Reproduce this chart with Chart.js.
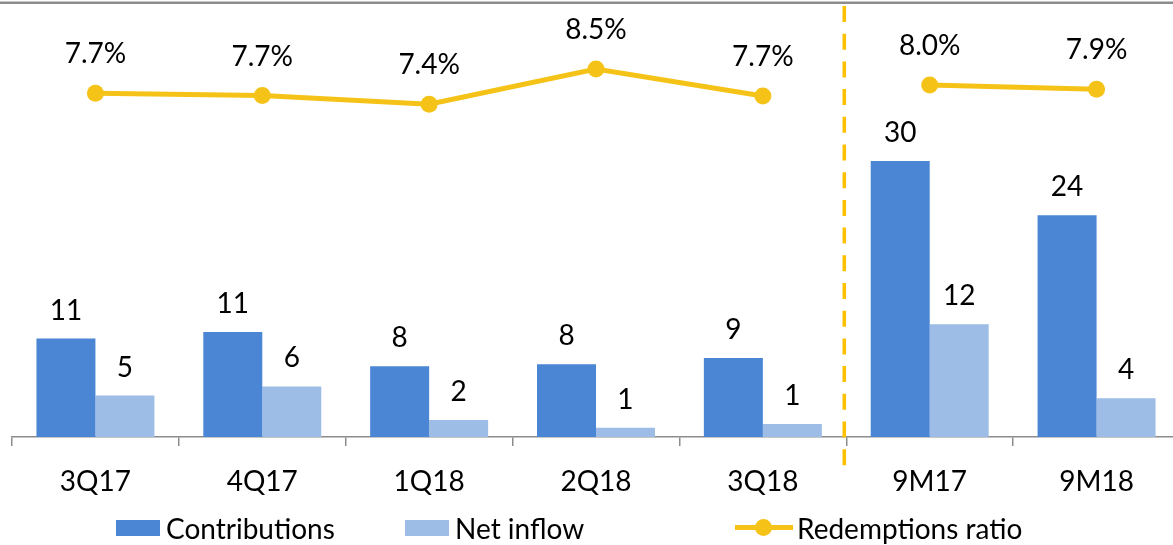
<!DOCTYPE html>
<html>
<head>
<meta charset="utf-8">
<title>Contributions, net inflow and redemptions ratio</title>
<script src="https://cdn.jsdelivr.net/npm/chart.js@4.4.1/dist/chart.umd.min.js"></script>
<style>
  html, body { margin: 0; padding: 0; background: #fff; overflow: hidden; }
  #wrap { position: relative; width: 1173px; height: 545px; overflow: hidden; }
  #chart { position: absolute; left: 0; top: 0; }
  #legend {
    position: absolute; left: 0; top: 510px; height: 35px;
    display: flex; align-items: center; padding-left: 116px;
    font-family: Lato, sans-serif; font-size: 28px; color: #000;
  }
  .item { display: flex; align-items: center; white-space: nowrap; }
  .item:nth-child(1) { width: 289px; }
  .item:nth-child(2) { width: 330px; }
  .box { width: 44px; height: 16px; margin-right: 6px; }
  .lineMark { position: relative; width: 58px; height: 17px; margin-right: 4px; }
  .lineMark .bar { position: absolute; left: 0; right: 0; top: 6px; height: 5px; }
  .lineMark .dot { position: absolute; left: 20px; top: 0; width: 17px; height: 17px; border-radius: 50%; }
</style>
</head>
<body>
<div id="wrap">
  <canvas id="chart" width="1181" height="545"></canvas>
  <div id="legend"></div>
</div>
<script>
// values
const categories = ['3Q17', '4Q17', '1Q18', '2Q18', '3Q18', '9M17', '9M18'];
const contributions = [10.7, 11.4, 7.7, 7.9, 8.6, 30.0, 24.1];
const netInflow = [4.5, 5.5, 1.85, 1.0, 1.4, 12.25, 4.2];
const redemptionsRatio = [7.74, 7.67, 7.4, 8.5, 7.66, 8.0, 7.87];
// quarters end here, nine-month totals follow
const lastQuarter = 4;

const blue = '#4A86D3';
const lightBlue = '#9DBDE6';
const gold = '#F5C317';
const dashGold = '#FFC000';
const axisGrey = '#8c8c8c';
const font = 'Lato';

// labels above bars and points
const valueLabels = {
    id: 'valueLabels',
    afterDatasetsDraw(chart) {
        const ctx = chart.ctx;
        ctx.save();
        ctx.font = '28px ' + font;
        ctx.fillStyle = '#000';
        ctx.textAlign = 'center';
        ctx.textBaseline = 'middle';
        chart.data.datasets.forEach((ds, i) => {
            const isLine = ds.type === 'line';
            chart.getDatasetMeta(i).data.forEach((el, j) => {
                const v = ds.data[j];
                const text = isLine ? v.toFixed(1) + '%' : String(Math.round(v));
                ctx.fillText(text, el.x, el.y - (isLine ? 39 : 28));
            });
        });
        ctx.restore();
    }
};

// dashed divider between quarters and 9M, plus the grey rule on top
const divider = {
    id: 'divider',
    afterDraw(chart) {
        const ctx = chart.ctx;
        const x = chart.scales.x;
        const area = chart.chartArea;
        const xPos = (x.getPixelForValue(lastQuarter) + x.getPixelForValue(lastQuarter + 1)) / 2 - 2;
        ctx.save();
        ctx.fillStyle = axisGrey;
        ctx.fillRect(0, 1.5, chart.width, 2.5);
        ctx.strokeStyle = dashGold;
        ctx.lineWidth = 3.5;
        ctx.setLineDash([16, 11.7]);
        ctx.beginPath();
        ctx.moveTo(xPos, area.top);
        ctx.lineTo(xPos, area.bottom + 37);
        ctx.stroke();
        ctx.restore();
    }
};

// legend as html under the plot
const htmlLegend = {
    id: 'htmlLegend',
    afterUpdate(chart) {
        const box = document.getElementById('legend');
        box.innerHTML = '';
        chart.data.datasets.forEach(ds => {
            const item = document.createElement('div');
            item.className = 'item';
            const mark = document.createElement('span');
            if (ds.type === 'line') {
                mark.className = 'lineMark';
                mark.innerHTML = '<span class="bar"></span><span class="dot"></span>';
                mark.querySelector('.bar').style.background = ds.borderColor;
                mark.querySelector('.dot').style.background = ds.borderColor;
            } else {
                mark.className = 'box';
                mark.style.background = ds.backgroundColor;
            }
            const label = document.createElement('span');
            label.textContent = ds.label;
            item.appendChild(mark);
            item.appendChild(label);
            box.appendChild(item);
        });
    }
};

new Chart(document.getElementById('chart'), {
    type: 'bar',
    data: {
        labels: categories,
        datasets: [
            {
                label: 'Contributions',
                data: contributions,
                yAxisID: 'y',
                backgroundColor: blue,
                order: 1
            },
            {
                label: 'Net inflow',
                data: netInflow,
                yAxisID: 'y',
                backgroundColor: lightBlue,
                order: 1
            },
            {
                type: 'line',
                label: 'Redemptions ratio',
                data: redemptionsRatio,
                yAxisID: 'y2',
                borderColor: gold,
                backgroundColor: gold,
                borderWidth: 5,
                tension: 0,
                pointRadius: 8.5,
                pointBorderWidth: 0,
                pointBackgroundColor: gold,
                segment: {
                    borderColor: ctx => ctx.p0DataIndex === lastQuarter ? 'transparent' : gold
                },
                order: 0
            }
        ]
    },
    options: {
        responsive: false,
        animation: false,
        layout: {
            autoPadding: false,
            padding: { left: 12, right: 1, top: 6, bottom: 0 }
        },
        datasets: {
            bar: { categoryPercentage: 0.707, barPercentage: 1 }
        },
        plugins: {
            legend: { display: false },
            tooltip: { enabled: false }
        },
        scales: {
            x: {
                grid: {
                    offset: true,
                    drawOnChartArea: false,
                    tickLength: 9,
                    color: axisGrey,
                    lineWidth: 1.5
                },
                border: { color: axisGrey, width: 1.5 },
                ticks: {
                    color: '#000',
                    font: { family: font, size: 28 },
                    padding: 19,
                    maxRotation: 0,
                    autoSkip: false
                },
                afterFit: s => { s.height = 108; }
            },
            y: { display: false, min: 0, max: 46.85 },
            y2: { display: false, min: -2.96, max: 10.46 }
        }
    },
    plugins: [valueLabels, divider, htmlLegend]
});
</script>
</body>
</html>
